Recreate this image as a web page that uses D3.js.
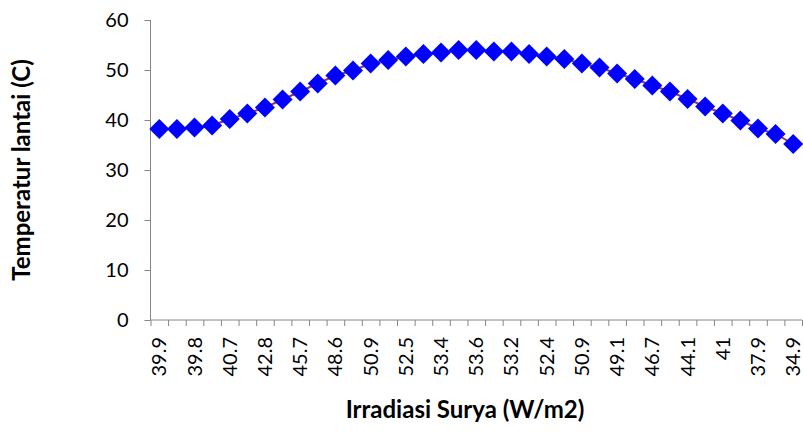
<!DOCTYPE html>
<html>
<head>
<meta charset="utf-8">
<script src="https://cdn.jsdelivr.net/npm/d3@7"></script>
<style>
  body { margin: 0; background: white; }
  text { font-family: Lato, "Open Sans", sans-serif; }
</style>
</head>
<body>
<div class="chart"></div>
<script>
// irradiasi labels (only every other one is shown on the axis)
var irradiasi = [39.9, 39.8, 39.8, 40.1, 40.7, 41.6, 42.8, 44.2, 45.7, 47.2,
                 48.6, 49.9, 50.9, 51.8, 52.5, 53.0, 53.4, 53.7, 53.6, 53.5,
                 53.2, 52.9, 52.4, 51.7, 50.9, 50.1, 49.1, 47.9, 46.7, 45.4,
                 44.1, 42.6, 41, 39.5, 37.9, 36.4, 34.9];
// temperatur lantai (C)
var temperatur = [38.2, 38.2, 38.5, 38.9, 40.2, 41.3, 42.5, 44.1, 45.7, 47.3,
                  48.9, 49.9, 51.3, 52.0, 52.7, 53.2, 53.5, 54.0, 54.0, 53.7,
                  53.7, 53.2, 52.7, 52.2, 51.3, 50.5, 49.3, 48.2, 46.9, 45.7,
                  44.2, 42.7, 41.3, 39.9, 38.3, 37.2, 35.2];
var yTicks = [0, 10, 20, 30, 40, 50, 60];

var width = 803,
    height = 446,
    plotLeft = 150.5,
    plotRight = 802,
    plotTop = 20,
    plotBottom = 320,
    axisColor = '#868686';

var svg = d3.select('.chart').append('svg')
    .attr('width', width)
    .attr('height', height)
    .style('background', 'white');

var idx = d3.range(temperatur.length);

var x = d3.scaleBand().domain(idx).range([plotLeft, plotRight]);
var xEdge = d3.scaleLinear().domain([0, idx.length]).range([plotLeft, plotRight]);
var y = d3.scaleLinear().domain([0, 60]).range([plotBottom, plotTop]);

// y axis
var yAxis = svg.append('g')
    .attr('transform', 'translate(' + plotLeft + ',0)')
    .call(d3.axisLeft(y).tickValues(yTicks).tickSize(6).tickPadding(16));
yAxis.select('.domain').attr('stroke', axisColor).attr('d', 'M0,' + plotTop + 'V' + plotBottom);
yAxis.selectAll('line').attr('stroke', axisColor);
yAxis.selectAll('text').attr('font-size', 20).attr('fill', 'black');

// x axis tick marks at category edges
var xTickAxis = svg.append('g')
    .attr('transform', 'translate(0,' + plotBottom + ')')
    .call(d3.axisBottom(xEdge).tickValues(d3.range(idx.length + 1)).tickSize(6).tickFormat(''));
xTickAxis.select('.domain').attr('stroke', axisColor).attr('d', 'M' + plotLeft + ',0H' + plotRight);
xTickAxis.selectAll('line').attr('stroke', axisColor);

// x labels, every other category
var xAxis = svg.append('g')
    .attr('transform', 'translate(0,' + plotBottom + ')')
    .call(d3.axisBottom(x)
        .tickValues(idx.filter(function(i) { return i % 2 === 0; }))
        .tickSize(0)
        .tickFormat(function(i) { return irradiasi[i]; }));
xAxis.select('.domain').remove();
xAxis.selectAll('text')
    .attr('font-size', 20)
    .attr('fill', 'black')
    .attr('text-anchor', 'end')
    .attr('dy', null)
    .attr('y', 0)
    .attr('transform', 'translate(7,17) rotate(-90)');

// series line
var line = d3.line()
    .x(function(d, i) { return x(i) + x.bandwidth() / 2; })
    .y(function(d) { return y(d); });

svg.append('path')
    .datum(temperatur)
    .attr('d', line)
    .attr('fill', 'none')
    .attr('stroke', '#993366')
    .attr('stroke-width', 2);

// diamond markers
svg.selectAll('.marker').data(temperatur)
    .enter().append('path')
        .attr('class', 'marker')
        .attr('d', d3.symbol(d3.symbolSquare, 200))
        .attr('fill', '#0000ff')
        .attr('transform', function(d, i) {
            return 'translate(' + (x(i) + x.bandwidth() / 2) + ',' + y(d) + ') rotate(45)';
        });

// axis titles
svg.append('text')
    .text('Temperatur lantai (C)')
    .attr('transform', 'translate(30,170) rotate(-90)')
    .attr('text-anchor', 'middle')
    .attr('font-size', 24)
    .attr('font-weight', 'bold');

svg.append('text')
    .text('Irradiasi Surya (W/m2)')
    .attr('x', 465)
    .attr('y', 418)
    .attr('text-anchor', 'middle')
    .attr('font-size', 24)
    .attr('font-weight', 'bold');
</script>
</body>
</html>
